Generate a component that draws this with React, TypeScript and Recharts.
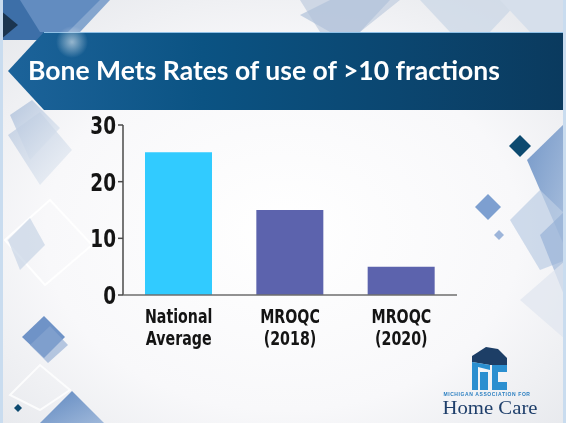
import React from 'react'
import { BarChart, Bar, XAxis, YAxis, Cell } from 'recharts'

// chart data
const categories = ['National Average', 'MROQC (2018)', 'MROQC (2020)']
const rates = [25.2, 15, 5]
const yTicks = [0, 10, 20, 30]

const BAR_COLORS = ['#31cbff', '#5c63ad', '#5c63ad']
const W = 566
const H = 423

const data = categories.map((name, i) => ({ name, value: rates[i] }))

// no condensed bold face is installed, so squeeze DejaVu Condensed a bit
const narrow = '"DejaVu Sans Condensed", "DejaVu Sans", sans-serif'

type TickProps = { x?: number; y?: number; payload?: { value: string | number } }

const CategoryTick = ({ x = 0, y = 0, payload }: TickProps) => {
  const label = String(payload?.value ?? '')
  const cut = label.indexOf(' ')
  const lines = cut > 0 ? [label.slice(0, cut), label.slice(cut + 1)] : [label]
  return (
    <g transform={`translate(${x},${y}) scale(0.79,1)`}>
      <text x={0} y={0} textAnchor="middle" fill="#141414" fontFamily={narrow} fontWeight={700} fontSize={20}>
        {lines.map((l, i) => (
          <tspan key={l} x={0} y={28 + i * 22}>{l}</tspan>
        ))}
      </text>
    </g>
  )
}

const ValueTick = ({ x = 0, y = 0, payload }: TickProps) => (
  <g transform={`translate(${x},${y}) scale(0.82,1)`}>
    <text x={0} y={0} dy="0.36em" textAnchor="end" fill="#141414" fontFamily={narrow} fontWeight={700} fontSize={25}>
      {payload?.value}
    </text>
  </g>
)

function Backdrop() {
  return (
    <svg width={W} height={H} style={{ position: 'absolute', left: 0, top: 0 }}>
      <defs>
        <radialGradient id="bg" cx="0.5" cy="0.55" r="0.7">
          <stop offset="0" stopColor="#ffffff" />
          <stop offset="0.6" stopColor="#f8f8fa" />
          <stop offset="1" stopColor="#e6e8ec" />
        </radialGradient>
        <linearGradient id="band" x1="0" y1="0" x2="1" y2="0">
          <stop offset="0" stopColor="#1c639a" />
          <stop offset="0.35" stopColor="#0b5383" />
          <stop offset="0.7" stopColor="#0b4670" />
          <stop offset="1" stopColor="#0a3a5e" />
        </linearGradient>
        <linearGradient id="blueDia" x1="0" y1="0" x2="1" y2="1">
          <stop offset="0" stopColor="#5f88c0" />
          <stop offset="1" stopColor="#9fb8da" />
        </linearGradient>
        <linearGradient id="paleDia" x1="0" y1="0" x2="1" y2="1">
          <stop offset="0" stopColor="#b7c7de" />
          <stop offset="1" stopColor="#edf1f6" />
        </linearGradient>
        <radialGradient id="glow" cx="0.5" cy="0.5" r="0.5">
          <stop offset="0" stopColor="#ffffff" stopOpacity="0.55" />
          <stop offset="1" stopColor="#ffffff" stopOpacity="0" />
        </radialGradient>
      </defs>
      <rect width={W} height={H} fill="url(#bg)" />

      {/* top strip diamonds */}
      <polygon points="0,0 100,0 60,40 0,40" fill="#3d6fa8" />
      <polygon points="20,0 110,0 80,32 40,32" fill="#6b93c6" opacity="0.8" />
      <polygon points="0,10 18,25 0,40" fill="#1b3550" />
      <polygon points="300,0 400,0 360,32 320,32" fill="#c6d1e1" opacity="0.8" />
      <polygon points="300,15 330,0 390,0 360,32 330,32" fill="#b1c2da" opacity="0.7" />
      <polygon points="420,0 520,0 490,32 450,32" fill="#c9d5e5" opacity="0.7" />
      <polygon points="500,0 566,0 566,32 530,32" fill="#d6dfeb" />

      {/* title band */}
      <polygon points="44,32 566,32 566,110 44,110 8,71" fill="url(#band)" />
      <line x1={44} y1={32.5} x2={566} y2={32.5} stroke="#8fc0e6" strokeWidth={1} />
      <circle cx={72} cy={42} r={16} fill="url(#glow)" />

      {/* left side */}
      <polygon points="10,115 32,100 60,128 30,160" fill="url(#paleDia)" />
      <polygon points="8,135 40,112 72,150 40,185" fill="url(#paleDia)" opacity="0.8" />
      <polygon points="5,240 50,200 92,245 45,285" fill="none" stroke="#ffffff" strokeWidth={2} opacity="0.9" />
      <polygon points="8,240 30,218 45,245 20,270" fill="#c8d4e6" opacity="0.7" />
      <polygon points="22,337 44,316 65,337 44,358" fill="#6f93c7" />
      <polygon points="30,345 50,326 68,345 48,363" fill="#8aa6d0" opacity="0.6" />
      <polygon points="10,395 40,365 70,390 40,410" fill="none" stroke="#ffffff" strokeWidth={2} opacity="0.8" />
      <polygon points="14,408 18,404 22,408 18,412" fill="#0d4a70" />
      <polygon points="40,423 72,391 104,423" fill="url(#blueDia)" />

      {/* right side */}
      <polygon points="509,146 520,135 531,146 520,157" fill="#0c4a70" />
      <polygon points="475,207 488,194 501,207 488,220" fill="#7d9fd0" />
      <polygon points="494,235 499,230 504,235 499,240" fill="#9db5da" />
      <polygon points="527,160 566,122 566,250" fill="url(#blueDia)" opacity="0.85" />
      <polygon points="510,220 540,190 566,215 566,260 540,270" fill="#bccde4" opacity="0.7" />
      <polygon points="540,235 566,210 566,300" fill="#8fabd4" opacity="0.6" />
      <polygon points="520,300 566,260 566,340" fill="#dfe6f0" opacity="0.7" />
      <rect x={563} y={0} width={3} height={H} fill="#c9dcef" />
      <rect x={0} y={0} width={3} height={H} fill="#c9dcef" />
    </svg>
  )
}

function Logo() {
  return (
    <svg width={W} height={H} style={{ position: 'absolute', left: 0, top: 0, pointerEvents: 'none' }}>
      <polygon points="472,362 472,356 486,347 498,349 507,358 507,365 490,365" fill="#1d3e66" />
      <polygon points="472,362 490,365 490,370 478,367 478,390 472,390" fill="#2b8fd0" />
      <polygon points="480,372 488,372 488,390 480,390" fill="#2b8fd0" />
      <polygon points="492,365 507,365 507,372 498,372 498,382 507,382 507,390 492,390" fill="#2b8fd0" />
      <text x={487} y={395.5} textAnchor="middle" fontFamily="Arial, sans-serif" fontWeight={700} fontSize={5} fill="#2b7fc1" letterSpacing={0.6}>
        MICHIGAN ASSOCIATION FOR
      </text>
      <text x={490} y={414} textAnchor="middle" fontFamily='"Liberation Serif", serif' fontSize={19} fill="#1f3f6b" textLength={95} lengthAdjust="spacingAndGlyphs">
        Home Care
      </text>
    </svg>
  )
}

export default function App() {
  return (
    <div style={{ position: 'fixed', left: 0, top: 0, width: W, height: H, overflow: 'hidden' }}>
      <Backdrop />
      <svg width={W} height={H} style={{ position: 'absolute', left: 0, top: 0 }}>
        <text
          x={28}
          y={80}
          fill="#ffffff"
          fontFamily="Lato, 'Open Sans', sans-serif"
          fontWeight={700}
          fontSize={26}
          textLength={472}
          lengthAdjust="spacingAndGlyphs"
        >
          Bone Mets Rates of use of &gt;10 fractions
        </text>
      </svg>
      <div style={{ position: 'absolute', left: 0, top: 0 }}>
        <BarChart width={W} height={H} data={data} margin={{ top: 125, right: 109, bottom: 78, left: 0 }}>
          <YAxis
            width={123}
            domain={[0, 30]}
            ticks={yTicks}
            interval={0}
            tickSize={5}
            tickMargin={2}
            axisLine={{ stroke: '#4a4a4a', strokeWidth: 1.5 }}
            tickLine={{ stroke: '#4a4a4a', strokeWidth: 1.5 }}
            tick={<ValueTick />}
          />
          <XAxis
            dataKey="name"
            height={50}
            interval={0}
            tickLine={false}
            tickSize={0}
            tickMargin={0}
            axisLine={{ stroke: '#6e6e6e', strokeWidth: 1.5 }}
            tick={<CategoryTick />}
          />
          <Bar dataKey="value" barSize={67} isAnimationActive={false}>
            {data.map((d, i) => (
              <Cell key={d.name} fill={BAR_COLORS[i]} />
            ))}
          </Bar>
        </BarChart>
      </div>
      <Logo />
    </div>
  )
}
